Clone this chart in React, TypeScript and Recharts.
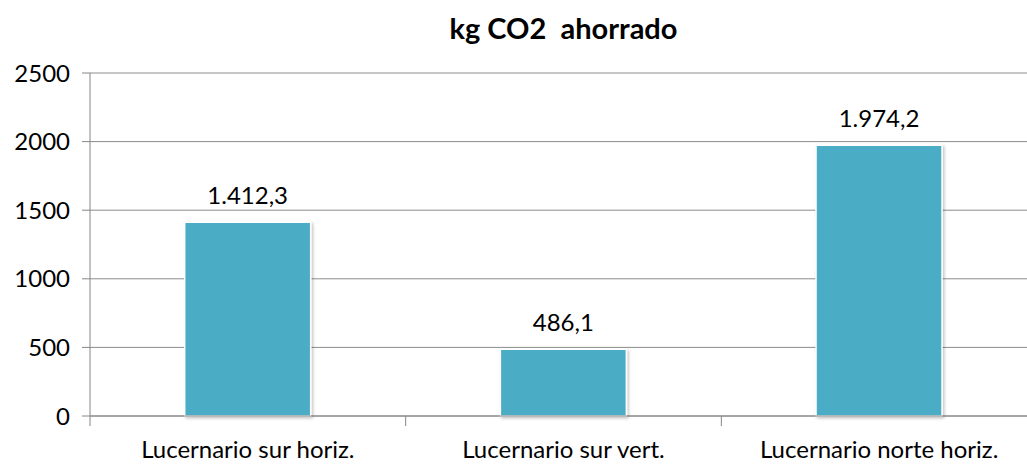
import React from 'react';
import { BarChart, Bar, XAxis, YAxis, CartesianGrid, LabelList } from 'recharts';

const categories = ['Lucernario sur horiz.', 'Lucernario sur vert.', 'Lucernario norte horiz.'];
const values = [1412.3, 486.1, 1974.2];
const yTicks = [0, 500, 1000, 1500, 2000, 2500];
const title = 'kg CO2  ahorrado';

const data = categories.map((c, i) => ({ name: c, value: values[i] }));

const FONT = 'Lato, "Open Sans", sans-serif';
const fmt = (v: number) => {
  const [int, dec] = v.toFixed(1).split('.');
  const withSep = int.replace(/\B(?=(\d{3})+(?!\d))/g, '.');
  return `${withSep},${dec}`;
};

const XTick = (props: any) => {
  const { x, y, payload, width, index } = props;
  const band = width / categories.length;
  return (
    <g>
      {index === 0 && <line x1={x - band / 2} x2={x - band / 2} y1={y - 8} y2={y + 2} stroke="#868686" strokeWidth={1} />}
      <line x1={x + band / 2} x2={x + band / 2} y1={y - 8} y2={y + 2} stroke="#868686" strokeWidth={1} />
      <text x={x} y={y + 34} textAnchor="middle" fontSize={24} fontFamily={FONT} fill="#000">
        {payload.value}
      </text>
    </g>
  );
};

export default function App() {
  return (
    <div style={{ position: 'absolute', left: 0, top: 0, width: 1027, height: 464, overflow: 'hidden', background: '#fff' }}>
      <svg width={0} height={0} style={{ position: 'absolute' }}>
        <defs>
          <filter id="sh" x="-10%" y="-10%" width="130%" height="130%">
            <feDropShadow dx="1.5" dy="1.5" stdDeviation="1.5" floodColor="#000" floodOpacity="0.25" />
          </filter>
        </defs>
      </svg>
      <div style={{ position: 'absolute', left: 0, top: 10, width: 1127, textAlign: 'center', fontFamily: FONT, fontWeight: 700, fontSize: 29, color: '#000', whiteSpace: 'pre' }}>
        {title}
      </div>
      <BarChart width={1045} height={464} data={data} margin={{ top: 73, right: 8, bottom: 0, left: 0 }} barCategoryGap="30%">
        <CartesianGrid vertical={false} stroke="#8c8c8c" strokeWidth={1} />
        <XAxis dataKey="name" height={48} axisLine={{ stroke: '#868686' }} tickLine={false} tick={<XTick />} interval={0} />
        <YAxis width={90} domain={[0, 2500]} ticks={yTicks} axisLine={{ stroke: '#868686' }} tickLine={{ stroke: '#868686' }} tickSize={8} tickMargin={12} tick={{ fontSize: 24, fontFamily: FONT, fill: '#000' }} />
        <Bar dataKey="value" fill="#4BACC6" stroke="#FFFFFF" strokeWidth={1.5} isAnimationActive={false} style={{ filter: 'url(#sh)' }}>
          <LabelList dataKey="value" position="top" offset={18} formatter={(v: any) => fmt(Number(v))} style={{ fontSize: 24, fontFamily: FONT, fill: '#000' }} />
        </Bar>
      </BarChart>
    </div>
  );
}
